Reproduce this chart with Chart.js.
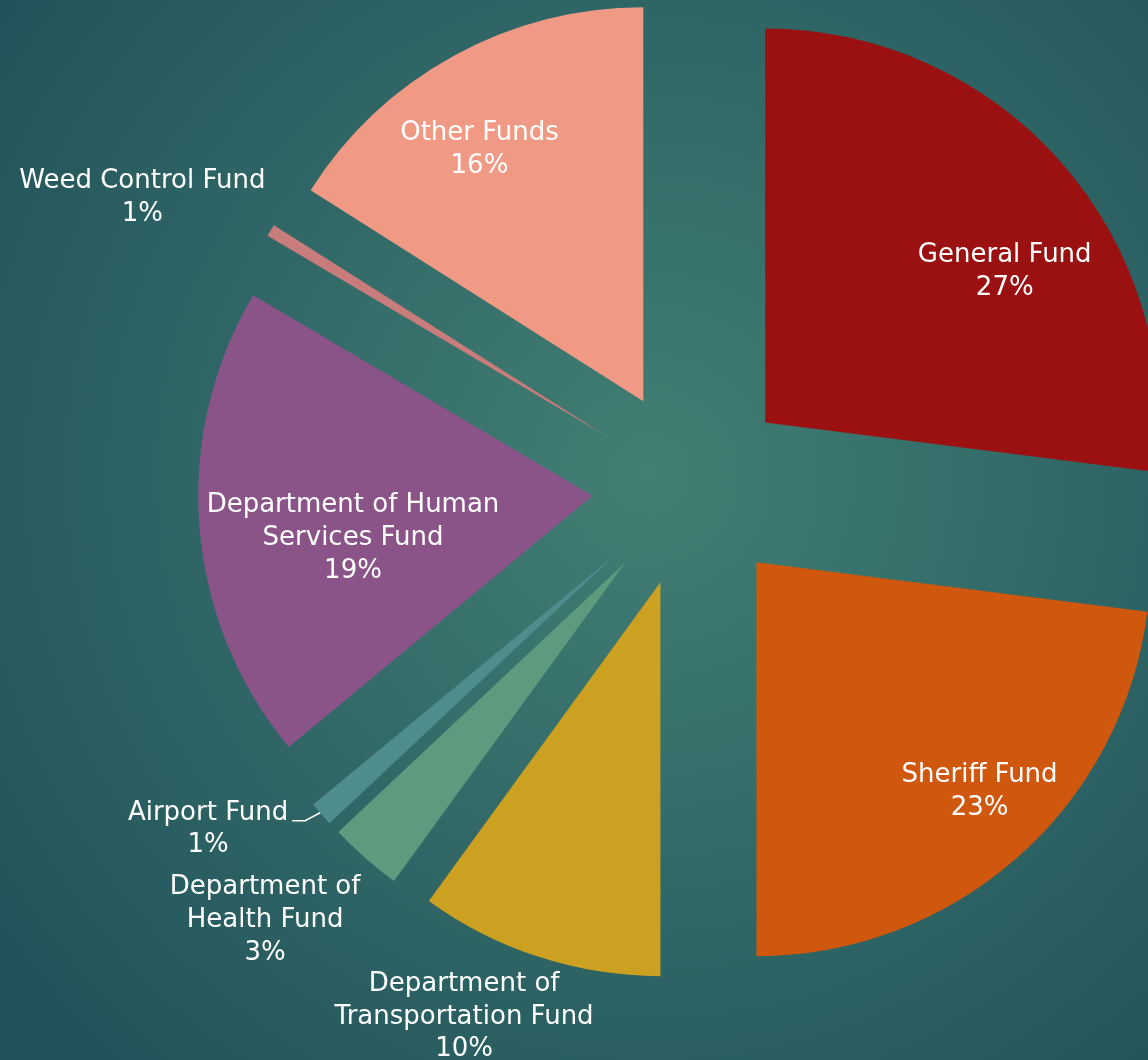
<!DOCTYPE html>
<html>
<head>
<meta charset="utf-8">
<script src="https://cdn.jsdelivr.net/npm/chart.js@4/dist/chart.umd.min.js"></script>
<style>
  html, body { margin: 0; padding: 0; background: #22555a; }
  #fundChart { display: block; }
</style>
</head>
<body>
<canvas id="fundChart" width="1148" height="1060"></canvas>
<script>
// Fund distribution (share of total, %)
const funds = [
    ['General Fund'],
    ['Sheriff Fund'],
    ['Department of', 'Transportation Fund'],
    ['Department of', 'Health Fund'],
    ['Airport Fund'],
    ['Department of Human', 'Services Fund'],
    ['Weed Control Fund'],
    ['Other Funds']
];
const shares = [27, 23, 10, 3, 1, 19.5, 0.5, 16];
const shareLabels = ['27%', '23%', '10%', '3%', '1%', '19%', '1%', '16%'];
const sliceColors = ['#9b1010', '#d0570e', '#cca020', '#5e9a7e', '#4f8c8c', '#8b5488', '#c97c7c', '#f09a85'];

const EXPLODE = 99;   // every slice pulled out from the middle by this much
const RADIUS = 394;

// where each label sits, measured from its slice tip: [angle clockwise from top, distance]
const labelSpots = [[57.8, 283], [135.8, 320], [204.3, 477], [225.2, 508], [236.0, 493], [260, 243], [297.2, 522], [326.9, 300]];

const background = {
    id: 'background',
    beforeDraw(chart) {
        const ctx = chart.ctx;
        const g = ctx.createRadialGradient(650, 475, 0, 650, 475, 820);
        g.addColorStop(0, '#427f74');
        g.addColorStop(1, '#21525a');
        ctx.save();
        ctx.fillStyle = g;
        ctx.fillRect(0, 0, chart.width, chart.height);
        ctx.restore();
    }
};

// pull each slice out along its middle angle (without chart.js offset, which trims thin slices)
const explode = {
    id: 'explode',
    beforeDatasetDraw(chart, args) {
        const area = chart.chartArea;
        const cx = (area.left + area.right) / 2;
        const cy = (area.top + area.bottom) / 2;
        args.meta.data.forEach(arc => {
            const half = (arc.startAngle + arc.endAngle) / 2;
            arc.x = cx + Math.cos(half) * EXPLODE;
            arc.y = cy + Math.sin(half) * EXPLODE;
        });
    }
};

const sliceLabels = {
    id: 'sliceLabels',
    afterDatasetsDraw(chart) {
        const ctx = chart.ctx;
        const meta = chart.getDatasetMeta(0);
        ctx.save();
        ctx.font = '26px "DejaVu Sans"';
        ctx.fillStyle = '#ffffff';
        ctx.textAlign = 'center';
        ctx.textBaseline = 'middle';
        meta.data.forEach((arc, i) => {
            const a = labelSpots[i][0] * Math.PI / 180;
            const lx = arc.x + Math.sin(a) * labelSpots[i][1];
            const ly = arc.y - Math.cos(a) * labelSpots[i][1];
            const lines = funds[i].concat([shareLabels[i]]);
            const lh = 32.8;
            lines.forEach((t, j) => {
                ctx.fillText(t, lx, ly + (j - (lines.length - 1) / 2) * lh);
            });
            if (funds[i][0] === 'Airport Fund') {
                // leader line
                const w = ctx.measureText(funds[i][0]).width;
                const y0 = ly - lh / 2 + 8;
                const x0 = lx + w / 2 + 4;
                ctx.strokeStyle = '#ffffff';
                ctx.lineWidth = 1.5;
                ctx.beginPath();
                ctx.moveTo(x0, y0);
                ctx.lineTo(x0 + 13, y0);
                ctx.lineTo(x0 + 28, y0 - 8);
                ctx.stroke();
            }
        });
        ctx.restore();
    }
};

new Chart(document.getElementById('fundChart'), {
    type: 'pie',
    data: {
        labels: funds.map(f => f.join(' ')),
        datasets: [{
            data: shares,
            backgroundColor: sliceColors,
            borderWidth: 0,
            hoverOffset: 0,
            clip: false
        }]
    },
    options: {
        responsive: false,
        animation: false,
        events: [],
        radius: RADIUS,
        layout: { padding: { left: 234, right: 0, top: 0, bottom: 84 } },
        plugins: {
            legend: { display: false },
            tooltip: { enabled: false }
        }
    },
    plugins: [background, explode, sliceLabels]
});
</script>
</body>
</html>
